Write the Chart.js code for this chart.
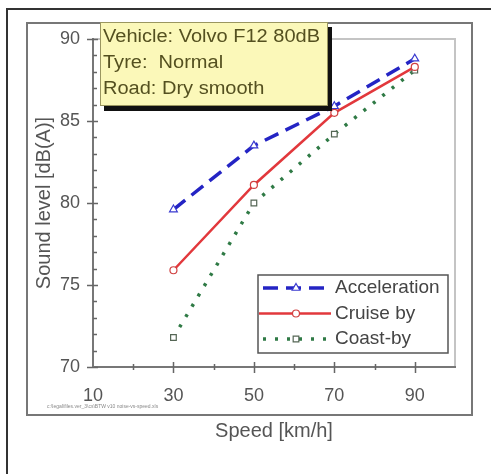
<!DOCTYPE html>
<html>
<head>
<meta charset="utf-8">
<script src="https://cdn.jsdelivr.net/npm/chart.js@4/dist/chart.umd.min.js"></script>
<style>
  html,body{margin:0;padding:0;background:#fff;}
  #wrap{width:491px;height:474px;position:relative;}
</style>
</head>
<body>
<div id="wrap"><canvas id="c" width="491" height="474"></canvas></div>
<script>
// data
const SPEEDS = [30, 50, 70, 90];
const ACCEL = [79.6, 83.5, 85.9, 88.8];
const CRUISE = [75.9, 81.1, 85.5, 88.3];
const COAST = [71.8, 80.0, 84.2, 88.1];
const SERIES_NAMES = ["Acceleration", "Cruise by", "Coast-by"];
const X_TICKS = [10, 30, 50, 70, 90];
const Y_TICKS = [70, 75, 80, 85, 90];
const NOTE_LINES = ["Vehicle: Volvo F12 80dB", "Tyre:  Normal", "Road: Dry smooth"];
const FOOTNOTE = "c:\\legal\\files.ver_3\\cs\\BTW v10 noise-vs-speed.xls";

const pts = ys => SPEEDS.map((x,i)=>({x, y:ys[i]}));
const FONT = "Arial, 'Liberation Sans', sans-serif";

// draw text stretched horizontally to a given width
function fitText(ctx, t, x, y, w){
  const m = ctx.measureText(t).width;
  ctx.save(); ctx.translate(x, y); ctx.scale(w/m, 1); ctx.fillText(t, 0, 0); ctx.restore();
}

// frames, manual ticks, note box, legend
const decor = {
  id: "decor",
  beforeDraw(chart){
    const ctx = chart.ctx;
    ctx.save();
    ctx.fillStyle = "#fff"; ctx.fillRect(0,0,chart.width,chart.height);
    ctx.strokeStyle = "#333"; ctx.lineWidth = 2;
    ctx.beginPath(); ctx.moveTo(7,474); ctx.lineTo(7,9); ctx.lineTo(491,9); ctx.stroke();
    ctx.strokeStyle = "#777"; ctx.lineWidth = 2;
    ctx.strokeRect(27,23,445,392);
    const a = chart.chartArea;
    ctx.strokeStyle = "#c4c4c4"; ctx.lineWidth = 2;
    ctx.beginPath(); ctx.moveTo(a.left,a.top); ctx.lineTo(a.right,a.top); ctx.lineTo(a.right,a.bottom); ctx.stroke();
    ctx.fillStyle = "#888"; ctx.font = "5px "+FONT; ctx.textBaseline = "middle";
    ctx.fillText(FOOTNOTE, 47, 407, 185);
    ctx.restore();
  },
  afterDraw(chart){
    const ctx = chart.ctx, a = chart.chartArea;
    const xs = chart.scales.x, ys = chart.scales.y;
    ctx.save();
    ctx.strokeStyle = "#666"; ctx.lineWidth = 1.5;
    ctx.beginPath();
    for(let v=20; v<=90; v+=10){
      const px = Math.round(xs.getPixelForValue(v))+0.5;
      const big = X_TICKS.includes(v);
      ctx.moveTo(px, a.bottom-(big?5:3)); ctx.lineTo(px, a.bottom+(big?6:3));
    }
    for(let v=70; v<=90; v++){
      const py = Math.round(ys.getPixelForValue(v))+0.5;
      if(Y_TICKS.includes(v)){ ctx.moveTo(a.left-6, py); ctx.lineTo(a.left+5, py); }
      else { ctx.moveTo(a.left, py); ctx.lineTo(a.left+4, py); }
    }
    ctx.stroke();

    // note box with shadow
    ctx.fillStyle = "#111"; ctx.fillRect(104,27,228,84);
    ctx.fillStyle = "#fbf8b9"; ctx.fillRect(100,22,228,84);
    ctx.strokeStyle = "#9a9660"; ctx.lineWidth = 1; ctx.strokeRect(100.5,22.5,227,83);
    ctx.fillStyle = "#545020"; ctx.font = "18px "+FONT; ctx.textBaseline = "middle";
    const w0 = ctx.measureText(NOTE_LINES[0]).width, k = 217/w0;
    NOTE_LINES.forEach((t,i)=>fitText(ctx, t, 103, 37+i*26, ctx.measureText(t).width*k));

    // legend
    ctx.fillStyle = "#fff"; ctx.fillRect(258,275,190,78);
    ctx.strokeStyle = "#555"; ctx.lineWidth = 1.5; ctx.strokeRect(258,275,190,78);
    chart.data.datasets.forEach((ds,i)=>{
      const y = 288 + i*25.5;
      ctx.save();
      ctx.strokeStyle = ds.borderColor; ctx.lineWidth = ds.borderWidth;
      ctx.setLineDash(ds.borderDash||[]);
      ctx.beginPath(); ctx.moveTo(i===1?259:263, y); ctx.lineTo(331, y); ctx.stroke();
      ctx.setLineDash([]);
      ctx.fillStyle = ds.pointBackgroundColor; ctx.strokeStyle = ds.pointBorderColor; ctx.lineWidth = 1.2;
      Chart.helpers.drawPoint(ctx, {pointStyle: ds.pointStyle, radius: ds.pointRadius, borderWidth: 1.2}, 296, y);
      ctx.restore();
      ctx.fillStyle = "#444"; ctx.font = "19px "+FONT; ctx.textBaseline = "middle";
      ctx.fillText(SERIES_NAMES[i], 335, y);
    });
    ctx.restore();
  }
};

new Chart(document.getElementById("c"), {
  type: "line",
  data: {
    datasets: [
      {label: SERIES_NAMES[0], data: pts(ACCEL), borderColor: "#2424c4", borderWidth: 3.5, borderDash: [15,8],
       pointStyle: "triangle", pointRadius: 4.5, pointBackgroundColor: "#fff", pointBorderColor: "#3a3ad0", pointBorderWidth: 1.2},
      {label: SERIES_NAMES[1], data: pts(CRUISE), borderColor: "#e2383c", borderWidth: 2.5,
       pointStyle: "circle", pointRadius: 3.5, pointBackgroundColor: "#fff", pointBorderColor: "#d04040", pointBorderWidth: 1.2},
      {label: SERIES_NAMES[2], data: pts(COAST), borderColor: "#2f7a45", borderWidth: 3.5, borderDash: [3,9],
       pointStyle: "rect", pointRadius: 4, pointBackgroundColor: "#fff", pointBorderColor: "#556655", pointBorderWidth: 1.2}
    ]
  },
  options: {
    responsive: false,
    animation: false,
    layout: {padding: {left: 30, right: 36, top: 39, bottom: 31}},
    plugins: {legend: {display: false}, tooltip: {enabled: false}},
    elements: {line: {tension: 0}},
    scales: {
      x: {
        type: "linear", min: 10, max: 100,
        grid: {display: false},
        border: {display: true, color: "#777", width: 2},
        afterBuildTicks: s => { s.ticks = X_TICKS.map(v=>({value: v})); },
        ticks: {padding: 10, color: "#555", font: {family: FONT, size: 18}},
        title: {display: true, text: "Speed [km/h]", color: "#555", font: {family: FONT, size: 20}, padding: {top: 0, bottom: 0}},
        afterFit: s => { s.height = 76; }
      },
      y: {
        type: "linear", min: 70, max: 90,
        grid: {display: false},
        border: {display: true, color: "#777", width: 2},
        afterBuildTicks: s => { s.ticks = Y_TICKS.map(v=>({value: v})); },
        ticks: {padding: 5, color: "#555", font: {family: FONT, size: 18}},
        title: {display: true, text: "Sound level [dB(A)]", color: "#555", font: {family: FONT, size: 20}, padding: {top: 2, bottom: 0}},
        afterFit: s => { s.width = 63; }
      }
    }
  },
  plugins: [decor]
});
</script>
</body>
</html>
